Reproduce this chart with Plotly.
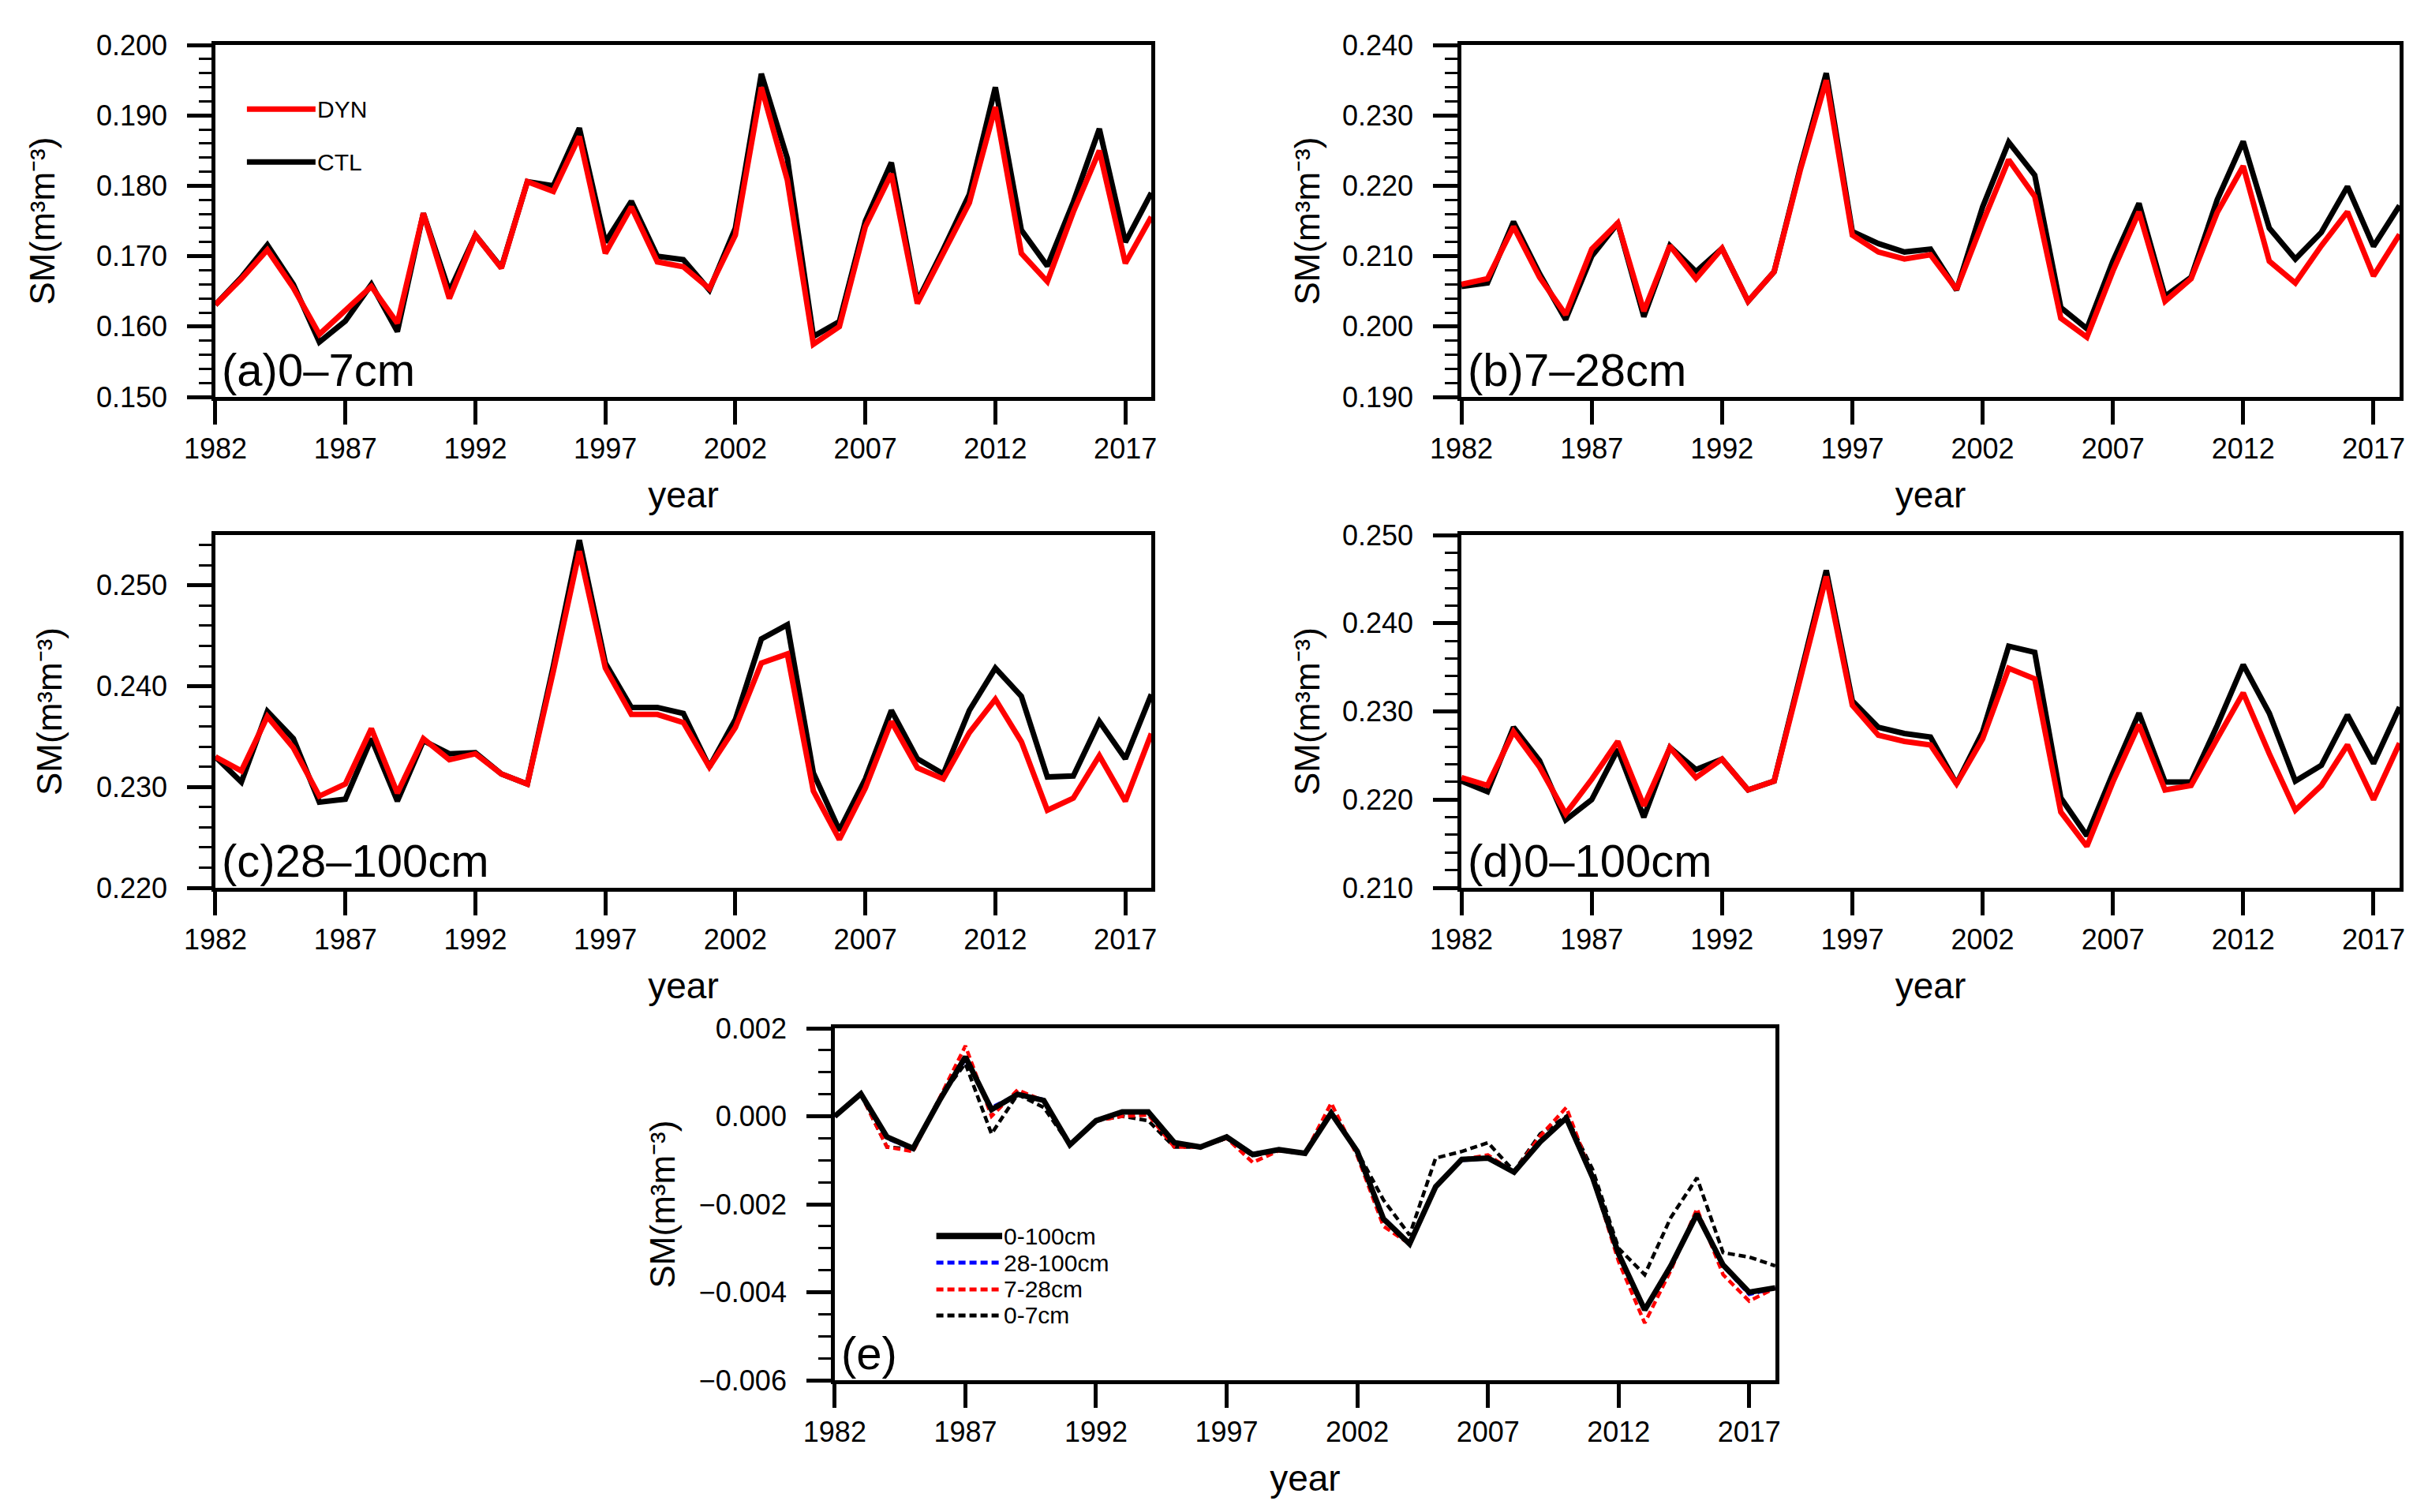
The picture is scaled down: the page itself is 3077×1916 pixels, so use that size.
import plotly.graph_objects as go

years = list(range(1982, 2019))
year_ticks = [1982, 1987, 1992, 1997, 2002, 2007, 2012, 2017]

# (a) 0-7cm
dyn_a = [0.1631, 0.1668, 0.1709, 0.1655, 0.1589, 0.1622, 0.1657, 0.1605, 0.1761, 0.1640,
         0.1730, 0.1683, 0.1806, 0.1792, 0.1870, 0.1704, 0.1770, 0.1692, 0.1685, 0.1654,
         0.1730, 0.1940, 0.1808, 0.1575, 0.1600, 0.1742, 0.1817, 0.1633, 0.1705, 0.1776,
         0.1912, 0.1704, 0.1664, 0.1763, 0.1850, 0.1690, 0.1756]
ctl_a = [0.1631, 0.1670, 0.1716, 0.1660, 0.1578, 0.1608, 0.1660, 0.1593, 0.1761, 0.1650,
         0.1730, 0.1684, 0.1806, 0.1800, 0.1882, 0.1720, 0.1778, 0.1700, 0.1695, 0.1652,
         0.1740, 0.1959, 0.1839, 0.1586, 0.1607, 0.1750, 0.1833, 0.1636, 0.1710, 0.1788,
         0.1940, 0.1737, 0.1686, 0.1777, 0.1881, 0.1720, 0.1790]

# (b) 7-28cm
dyn_b = [0.2060, 0.2068, 0.2142, 0.2070, 0.2017, 0.2110, 0.2147, 0.2022, 0.2115, 0.2068,
         0.2111, 0.2036, 0.2078, 0.2222, 0.2350, 0.2130, 0.2106, 0.2096, 0.2102, 0.2053,
         0.2148, 0.2237, 0.2185, 0.2012, 0.1985, 0.2079, 0.2163, 0.2036, 0.2068, 0.2162,
         0.2228, 0.2093, 0.2062, 0.2115, 0.2163, 0.2072, 0.2131]
ctl_b = [0.2057, 0.2062, 0.2149, 0.2075, 0.2010, 0.2100, 0.2147, 0.2014, 0.2115, 0.2078,
         0.2111, 0.2036, 0.2078, 0.2225, 0.2360, 0.2135, 0.2118, 0.2106, 0.2110, 0.2052,
         0.2170, 0.2262, 0.2215, 0.2027, 0.1997, 0.2093, 0.2175, 0.2043, 0.2070, 0.2180,
         0.2263, 0.2140, 0.2096, 0.2134, 0.2199, 0.2114, 0.2172]

# (c) 28-100cm
dyn_c = [0.2330, 0.2316, 0.2370, 0.2339, 0.2291, 0.2303, 0.2358, 0.2294, 0.2348, 0.2327,
         0.2333, 0.2313, 0.2303, 0.2415, 0.2534, 0.2418, 0.2372, 0.2372, 0.2364, 0.2320,
         0.2359, 0.2423, 0.2432, 0.2296, 0.2248, 0.2299, 0.2365, 0.2319, 0.2308, 0.2354,
         0.2387, 0.2345, 0.2277, 0.2289, 0.2331, 0.2286, 0.2353]
ctl_c = [0.2330, 0.2305, 0.2375, 0.2348, 0.2285, 0.2288, 0.2348, 0.2286, 0.2346, 0.2333,
         0.2334, 0.2313, 0.2303, 0.2420, 0.2545, 0.2423, 0.2379, 0.2379, 0.2373, 0.2320,
         0.2367, 0.2447, 0.2461, 0.2314, 0.2257, 0.2308, 0.2376, 0.2328, 0.2313, 0.2376,
         0.2418, 0.2390, 0.2310, 0.2311, 0.2365, 0.2328, 0.2392]

# (d) 0-100cm
dyn_d = [0.2225, 0.2216, 0.2277, 0.2237, 0.2184, 0.2223, 0.2266, 0.2193, 0.2259, 0.2225,
         0.2246, 0.2211, 0.2221, 0.2335, 0.2453, 0.2307, 0.2273, 0.2266, 0.2262, 0.2218,
         0.2269, 0.2349, 0.2337, 0.2186, 0.2147, 0.2220, 0.2285, 0.2211, 0.2216, 0.2269,
         0.2321, 0.2252, 0.2188, 0.2216, 0.2262, 0.2200, 0.2264]
ctl_d = [0.2221, 0.2209, 0.2282, 0.2244, 0.2177, 0.2200, 0.2257, 0.2180, 0.2259, 0.2234,
         0.2246, 0.2211, 0.2221, 0.2340, 0.2460, 0.2312, 0.2282, 0.2275, 0.2271, 0.2218,
         0.2277, 0.2374, 0.2367, 0.2202, 0.2159, 0.2230, 0.2298, 0.2220, 0.2220, 0.2284,
         0.2353, 0.2298, 0.2221, 0.2239, 0.2296, 0.2241, 0.2305]

# (e) DYN - CTL differences
diff_0_100 = [0.0, 0.00051, -0.00047, -0.00073, 0.00035, 0.00135, 0.00015, 0.0005, 0.00036, -0.00065,
              -0.0001, 0.0001, 0.0001, -0.0006, -0.0007, -0.00047, -0.00087, -0.00076, -0.00084, 0.00007,
              -0.0008, -0.00233, -0.0029, -0.0016, -0.00098, -0.00095, -0.00127, -0.00058, -0.00004, -0.00138,
              -0.00313, -0.0044, -0.0034, -0.00222, -0.00338, -0.0040, -0.0039]
diff_28_100 = [0.0, 0.0005, -0.0005, -0.00075, 0.00035, 0.0013, 0.0002, 0.0005, 0.00038, -0.00065,
               -0.0001, 0.0001, 0.0001, -0.0006, -0.0007, -0.00047, -0.00085, -0.00076, -0.00084, 0.00005,
               -0.0008, -0.0023, -0.0029, -0.0016, -0.0010, -0.00096, -0.00127, -0.0006, -0.00005, -0.00138,
               -0.0031, -0.0044, -0.0034, -0.00222, -0.0034, -0.00405, -0.0039]
diff_7_28 = [0.0, 0.0005, -0.0007, -0.0008, 0.0004, 0.0016, 0.0, 0.0006, 0.00035, -0.00065,
             -0.0001, 0.0, 0.00003, -0.0007, -0.0007, -0.0005, -0.00105, -0.00078, -0.00085, 0.0003,
             -0.0009, -0.0025, -0.0029, -0.0016, -0.00098, -0.00088, -0.00127, -0.00045, 0.0002, -0.00138,
             -0.0033, -0.0047, -0.0035, -0.0021, -0.0036, -0.0042, -0.0039]
diff_0_7 = [0.0, 0.0005, -0.0007, -0.00075, 0.0004, 0.0012, -0.0004, 0.0005, 0.0002, -0.00065,
            -0.0001, 0.0, -0.0001, -0.0007, -0.0007, -0.0005, -0.0009, -0.00078, -0.00085, 0.0001,
            -0.0008, -0.0019, -0.0027, -0.00095, -0.0008, -0.0006, -0.00125, -0.0004, 0.0, -0.0012,
            -0.0030, -0.0036, -0.0023, -0.0014, -0.0031, -0.0032, -0.0034]

FONT = "Liberation Sans, Arial, Helvetica, sans-serif"
YTITLE = "SM(m\u00b3m\u207b\u00b3)"

# axis id, x domain, y domain, y range, minor step, panel label, title standoff
panels = [
    ("", [0.0861, 0.4716], [0.7416, 0.9744], [0.150, 0.200], 0.002, "(a)0\u20137cm", 40),
    ("2", [0.5993, 0.9857], [0.7416, 0.9744], [0.190, 0.240], 0.002, "(b)7\u201328cm", 16),
    ("3", [0.0861, 0.4716], [0.4170, 0.6503], [0.220, 0.255], 0.002, "(c)28\u2013100cm", 31),
    ("4", [0.5993, 0.9857], [0.4170, 0.6503], [0.210, 0.250], 0.002, "(d)0\u2013100cm", 16),
    ("5", [0.3412, 0.7286], [0.0913, 0.3241], [-0.006, 0.002], 0.0005, "(e)", 18),
]

fig = go.Figure()

pairs = [(dyn_a, ctl_a), (dyn_b, ctl_b), (dyn_c, ctl_c), (dyn_d, ctl_d)]
for (dyn, ctl), p in zip(pairs, panels[:4]):
    ax = p[0]
    fig.add_trace(go.Scatter(x=years, y=ctl, mode="lines", name="CTL",
                             line=dict(color="black", width=7),
                             xaxis="x" + ax, yaxis="y" + ax, showlegend=False))
    fig.add_trace(go.Scatter(x=years, y=dyn, mode="lines", name="DYN",
                             line=dict(color="red", width=7),
                             xaxis="x" + ax, yaxis="y" + ax, showlegend=False))

diff_series = [
    ("0-7cm", diff_0_7, "black", "dash", 4.5),
    ("7-28cm", diff_7_28, "red", "dash", 4.5),
    ("28-100cm", diff_28_100, "blue", "dash", 4.5),
    ("0-100cm", diff_0_100, "black", "solid", 7),
]
for name, vals, color, dash, w in diff_series:
    fig.add_trace(go.Scatter(x=years, y=vals, mode="lines", name=name,
                             line=dict(color=color, width=w,
                                       dash="9px,5px" if dash == "dash" else "solid"),
                             xaxis="x5", yaxis="y5", showlegend=False))

layout = dict(
    width=3077, height=1916,
    margin=dict(l=0, r=0, t=0, b=0),
    paper_bgcolor="white", plot_bgcolor="white",
    font=dict(family=FONT, color="black", size=36),
    showlegend=False,
)

annotations = []
shapes = []
for ax, xd, yd, yr, minor, label, standoff in panels:
    layout["xaxis" + ax] = dict(
        domain=xd, anchor="y" + ax, range=[1982, 2018], automargin=False,
        tickvals=year_ticks, ticktext=[str(t) for t in year_ticks],
        ticks="outside", ticklen=30, tickwidth=4.5, tickcolor="black",
        showline=True, mirror=True, linewidth=4.5, linecolor="black",
        showgrid=False, zeroline=False,
        tickfont=dict(family=FONT, size=36, color="black"),
        title=dict(text="year", font=dict(family=FONT, size=46, color="black"), standoff=24),
    )
    layout["yaxis" + ax] = dict(
        domain=yd, anchor="x" + ax, range=yr, dtick=0.01 if ax != "5" else 0.002,
        tick0=0, tickformat=".3f", automargin=False,
        ticks="outside", ticklen=31, tickwidth=4.5, tickcolor="black",
        ticklabelstandoff=18,
        minor=dict(dtick=minor, tick0=0, ticks="outside", ticklen=16, tickwidth=3,
                   tickcolor="black", showgrid=False),
        showline=True, mirror=True, linewidth=4.5, linecolor="black",
        showgrid=False, zeroline=False,
        tickfont=dict(family=FONT, size=36, color="black"),
        title=dict(text=YTITLE, font=dict(family=FONT, size=44, color="black"), standoff=standoff),
    )
    annotations.append(dict(
        text=label, xref="x%s domain" % ax, yref="y%s domain" % ax,
        x=0.005, y=0.0, xanchor="left", yanchor="bottom", showarrow=False,
        font=dict(family=FONT, size=58, color="black"),
    ))

# legend of panel (a)
leg_a = [("DYN", "red", 0.818), ("CTL", "black", 0.668)]
for name, color, yy in leg_a:
    shapes.append(dict(type="line", xref="x domain", yref="y domain",
                       x0=0.0337, x1=0.107, y0=yy, y1=yy,
                       line=dict(color=color, width=7)))
    annotations.append(dict(text=name, xref="x domain", yref="y domain",
                            x=0.107, y=yy, xanchor="left", yanchor="middle",
                            showarrow=False, font=dict(family=FONT, size=30, color="black")))

# legend of panel (e)
leg_e = [("0-100cm", "black", "solid", 8, 0.410),
         ("28-100cm", "blue", "9px,5px", 5, 0.334),
         ("7-28cm", "red", "9px,5px", 5, 0.258),
         ("0-7cm", "black", "9px,5px", 5, 0.184)]
for name, color, dash, w, yy in leg_e:
    shapes.append(dict(type="line", xref="x5 domain", yref="y5 domain",
                       x0=0.108, x1=0.178, y0=yy, y1=yy,
                       line=dict(color=color, width=w, dash=dash)))
    annotations.append(dict(text=name, xref="x5 domain", yref="y5 domain",
                            x=0.178, y=yy, xanchor="left", yanchor="middle",
                            showarrow=False, font=dict(family=FONT, size=30, color="black")))

layout["annotations"] = annotations
layout["shapes"] = shapes
fig.update_layout(**layout)

fig.write_html("out.html")
